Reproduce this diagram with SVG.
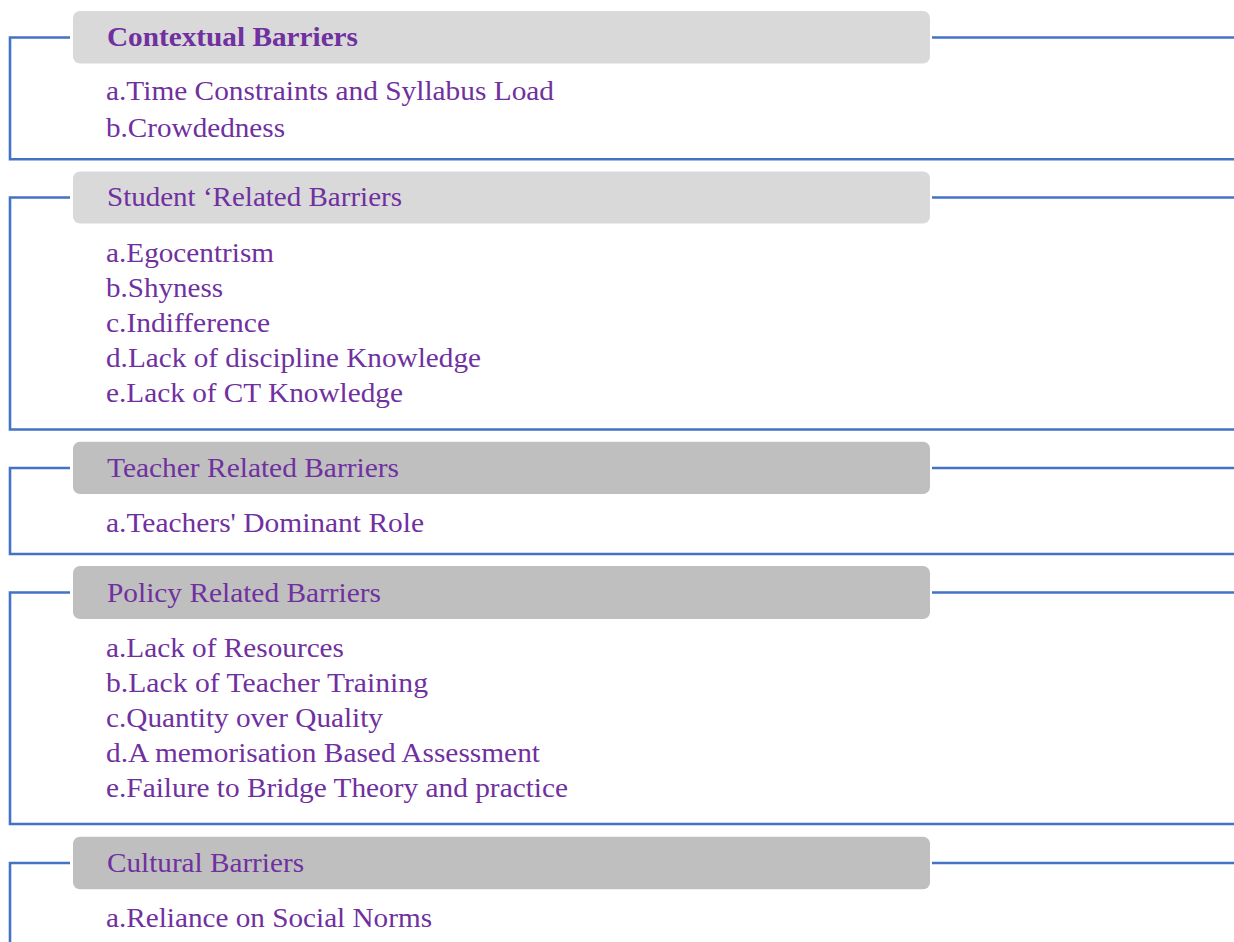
<svg xmlns="http://www.w3.org/2000/svg" width="1234" height="942" viewBox="0 0 1234 942">
<style>
.hdr-l{fill:#d9d9d9}
.hdr-d{fill:#bfbfbf}
text{font-family:"Liberation Serif","Times New Roman",serif;font-size:26.5px;fill:#7030a0}
.b{font-weight:bold}
.ln{fill:none;stroke:#4472c4;stroke-width:2.6}
</style>
<rect width="1234" height="942" fill="#ffffff"/>
<g id="connectors">
<path class="ln" d="M70,37.5 H10 V159.3 H1234"/>
<path class="ln" d="M932,37.5 H1234"/>
<path class="ln" d="M70,197.5 H10 V429.5 H1234"/>
<path class="ln" d="M932,197.5 H1234"/>
<path class="ln" d="M70,468 H10 V554 H1234"/>
<path class="ln" d="M932,468 H1234"/>
<path class="ln" d="M70,592.5 H10 V824 H1234"/>
<path class="ln" d="M932,592.5 H1234"/>
<path class="ln" d="M70,863 H10 V942"/>
<path class="ln" d="M932,863 H1234"/>
</g>
<g id="contextual">
<rect class="hdr-l" x="73" y="11" width="857" height="52.5" rx="7"/>
<text class="b" x="107" y="46" textLength="251" lengthAdjust="spacingAndGlyphs">Contextual Barriers</text>
<text x="106" y="100" textLength="448" lengthAdjust="spacingAndGlyphs">a.Time Constraints and Syllabus Load</text>
<text x="106" y="136.5" textLength="179" lengthAdjust="spacingAndGlyphs">b.Crowdedness</text>
</g>
<g id="student">
<rect class="hdr-l" x="73" y="171.5" width="857" height="52" rx="7"/>
<text x="107" y="206.3" textLength="295" lengthAdjust="spacingAndGlyphs">Student ‘Related Barriers</text>
<text x="106" y="261.7" textLength="168" lengthAdjust="spacingAndGlyphs">a.Egocentrism</text>
<text x="106" y="296.7" textLength="117" lengthAdjust="spacingAndGlyphs">b.Shyness</text>
<text x="106" y="331.7" textLength="164" lengthAdjust="spacingAndGlyphs">c.Indifference</text>
<text x="106" y="366.7" textLength="375" lengthAdjust="spacingAndGlyphs">d.Lack of discipline Knowledge</text>
<text x="106" y="401.7" textLength="297" lengthAdjust="spacingAndGlyphs">e.Lack of CT Knowledge</text>
</g>
<g id="teacher">
<rect class="hdr-d" x="73" y="441.7" width="857" height="52.3" rx="7"/>
<text x="107" y="476.7" textLength="292" lengthAdjust="spacingAndGlyphs">Teacher Related Barriers</text>
<text x="106" y="531.7" textLength="318" lengthAdjust="spacingAndGlyphs">a.Teachers' Dominant Role</text>
</g>
<g id="policy">
<rect class="hdr-d" x="73" y="566" width="857" height="53" rx="7"/>
<text x="107" y="601.7" textLength="274" lengthAdjust="spacingAndGlyphs">Policy Related Barriers</text>
<text x="106" y="656.5" textLength="238" lengthAdjust="spacingAndGlyphs">a.Lack of Resources</text>
<text x="106" y="691.5" textLength="322" lengthAdjust="spacingAndGlyphs">b.Lack of Teacher Training</text>
<text x="106" y="726.5" textLength="277" lengthAdjust="spacingAndGlyphs">c.Quantity over Quality</text>
<text x="106" y="761.5" textLength="434" lengthAdjust="spacingAndGlyphs">d.A memorisation Based Assessment</text>
<text x="106" y="796.7" textLength="462" lengthAdjust="spacingAndGlyphs">e.Failure to Bridge Theory and practice</text>
</g>
<g id="cultural">
<rect class="hdr-d" x="73" y="836.7" width="857" height="52.6" rx="7"/>
<text x="107" y="871.7" textLength="197" lengthAdjust="spacingAndGlyphs">Cultural Barriers</text>
<text x="106" y="926.7" textLength="326" lengthAdjust="spacingAndGlyphs">a.Reliance on Social Norms</text>
</g>
</svg>
